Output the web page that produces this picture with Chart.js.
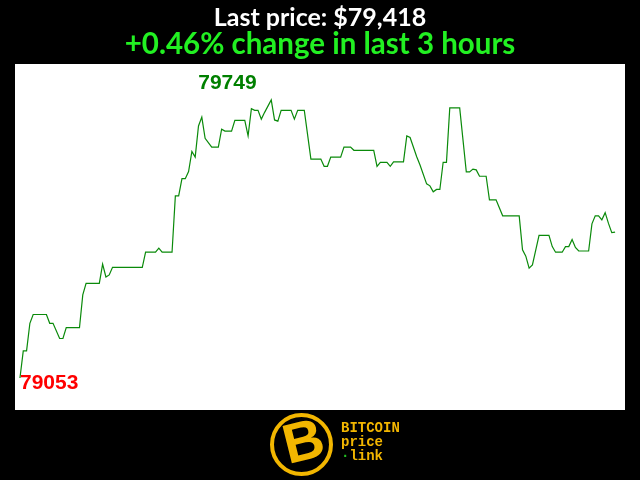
<!DOCTYPE html>
<html>
<head>
<meta charset="utf-8">
<script src="https://cdn.jsdelivr.net/npm/chart.js@4.4.1/dist/chart.umd.min.js"></script>
<style>
  html, body { margin: 0; padding: 0; background: #000; }
  #wrap { position: relative; width: 640px; height: 480px; overflow: hidden; background: #000; }
  #chart { position: absolute; left: 0; top: 0; }
  .head { position: absolute; left: 0; width: 640px; text-align: center; font-family: Lato, sans-serif; font-weight: bold; white-space: nowrap; line-height: 1; }
  #title { top: 4px; font-size: 25px; color: #fff; }
  #subtitle { top: 28px; font-size: 29.5px; color: #22f022; }
  #logo-ring { position: absolute; left: 270px; top: 413px; width: 55px; height: 55px; border: 4px solid #f2b600; border-radius: 50%; overflow: hidden; }
  #logo-b { position: absolute; left: 9px; top: -4px; font-family: "Liberation Sans", sans-serif; font-weight: bold; font-size: 56px; color: #f2b600; transform: rotate(-14deg); line-height: 1; }
  #logo-text { position: absolute; left: 341px; top: 421px; font-family: "Liberation Mono", monospace; font-weight: bold; font-size: 14px; line-height: 14px; color: #f2b600; white-space: pre; }
  #logo-text .dot { color: #22c022; }
</style>
</head>
<body>
<div id="wrap">
  <canvas id="chart" width="640" height="480"></canvas>
  <div class="head" id="title">Last price: $79,418</div>
  <div class="head" id="subtitle">+0.46% change in last 3 hours</div>
  <div id="logo-ring"><div id="logo-b">B</div></div>
  <div id="logo-text">BITCOIN
price
<span class="dot">·</span>link</div>
</div>
<script>
// ─── Data (minutes into the 3 hour window, price in USD) ────

const minutes = [
  0, 1, 2, 3, 4, 8, 9, 10, 12, 13, 14, 18, 19, 20, 24, 25, 26, 27, 28, 37,
  38, 41, 42, 43, 46, 47, 48, 49, 50, 51, 52, 53, 54, 55, 56, 58, 60, 61, 62, 64,
  65, 68, 69, 70, 71, 72, 73, 74, 76, 77, 78, 79, 82, 83, 84, 86, 88, 91, 92, 93,
  94, 97, 98, 100, 101, 107, 108, 109, 111, 112, 113, 116, 117, 118, 120, 121, 123, 124, 125, 126,
  127, 128, 129, 130, 133, 135, 136, 137, 138, 139, 141, 142, 144, 146, 151, 152, 153, 154, 155, 157,
  160, 161, 162, 164, 165, 166, 167, 168, 169, 172, 173, 174, 175, 176, 177, 178, 179, 180,
];

const prices = [
  79053, 79121, 79121, 79190, 79212, 79212, 79190, 79190, 79152, 79152, 79179, 79179, 79261, 79290, 79290, 79338, 79306, 79311, 79330, 79330,
  79368, 79368, 79378, 79368, 79368, 79509, 79509, 79552, 79552, 79570, 79620, 79606, 79684, 79706, 79653, 79631, 79631, 79676, 79671, 79671,
  79698, 79698, 79659, 79727, 79723, 79723, 79701, 79718, 79749, 79699, 79696, 79723, 79723, 79701, 79723, 79723, 79601, 79601, 79583, 79583,
  79606, 79606, 79631, 79631, 79623, 79623, 79583, 79593, 79593, 79583, 79594, 79594, 79659, 79655, 79607, 79586, 79539, 79534, 79519, 79525,
  79525, 79593, 79593, 79729, 79729, 79569, 79569, 79576, 79574, 79558, 79558, 79499, 79499, 79459, 79459, 79374, 79358, 79328, 79336, 79410,
  79410, 79382, 79368, 79368, 79382, 79382, 79400, 79380, 79371, 79371, 79439, 79459, 79459, 79449, 79467, 79440, 79417, 79418,
];

// ─── Plugins ────────────────────────────────────────────────

const plotBackground = {
  id: 'plotBackground',
  beforeDraw(chart) {
    const { ctx, chartArea: a } = chart;
    ctx.save();
    ctx.fillStyle = '#000';
    ctx.fillRect(0, 0, chart.width, chart.height);
    ctx.fillStyle = '#fff';
    ctx.fillRect(a.left, a.top, a.right - a.left, a.bottom - a.top);
    ctx.restore();
  },
};

const extremeLabels = {
  id: 'extremeLabels',
  afterDatasetsDraw(chart) {
    const { ctx, scales } = chart;
    const hi = prices.indexOf(Math.max(...prices));
    const lo = prices.indexOf(Math.min(...prices));
    ctx.save();
    ctx.font = 'bold 21px "Liberation Sans", Arial, sans-serif';
    ctx.textAlign = 'left';
    ctx.textBaseline = 'middle';
    ctx.fillStyle = '#008000';
    ctx.fillText(String(prices[hi]), scales.x.getPixelForValue(minutes[hi]) - 73, scales.y.getPixelForValue(prices[hi]) - 17);
    ctx.fillStyle = '#ff0000';
    ctx.fillText(String(prices[lo]), scales.x.getPixelForValue(minutes[lo]), scales.y.getPixelForValue(prices[lo]) + 5);
    ctx.restore();
  },
};

// ─── Chart ──────────────────────────────────────────────────

new Chart(document.getElementById('chart'), {
  type: 'line',
  data: {
    datasets: [{
      data: minutes.map((m, i) => ({ x: m, y: prices[i] })),
      borderColor: '#0a8a0a',
      borderWidth: 1.2,
      pointRadius: 0,
      tension: 0,
      fill: false,
    }],
  },
  options: {
    responsive: false,
    animation: false,
    layout: { padding: { left: 15, right: 15, top: 64, bottom: 70 } },
    plugins: {
      legend: { display: false },
      tooltip: { enabled: false },
    },
    scales: {
      x: { type: 'linear', display: false, min: -1.5, max: 183 },
      y: { display: false, min: 78973, max: 79839 },
    },
  },
  plugins: [plotBackground, extremeLabels],
});
</script>
</body>
</html>
